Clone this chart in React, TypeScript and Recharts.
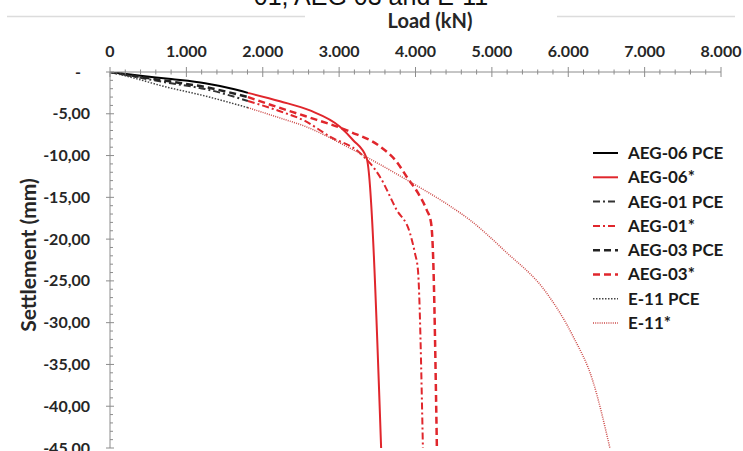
import React from 'react';
import { LineChart, Line, XAxis, YAxis } from 'recharts';

// load (kN) / settlement (mm)
const aeg06PceLoad = [0, 400, 800, 1244, 1571, 1806];
const aeg06PceSettlement = [0, -0.45, -0.85, -1.35, -1.95, -2.5];
const aeg06StarLoad = [1806, 2225, 2618, 3011, 3181, 3360, 3550];
const aeg06StarSettlement = [-2.5, -3.5, -4.6, -6.55, -8.14, -10.3, -45];

const aeg01PceLoad = [0, 400, 800, 1244, 1806];
const aeg01PceSettlement = [0, -0.7, -1.35, -2.03, -3.47];
const aeg01StarLoad = [1806, 2225, 2553, 2880, 3273, 3534, 3753, 3927, 3992, 4032, 4097];
const aeg01StarSettlement = [-3.47, -4.7, -5.86, -7.74, -9.69, -12.53, -16.5, -19.27, -21.66, -23.7, -45];

const aeg03PceLoad = [0, 400, 800, 1244, 1806];
const aeg03PceSettlement = [0, -0.6, -1.15, -1.8, -3.0];
const aeg03StarLoad = [1806, 2225, 2553, 3142, 3534, 3753, 3884, 4032, 4146, 4202, 4228, 4280];
const aeg03StarSettlement = [-3.0, -4.3, -5.27, -7.14, -8.9, -10.74, -12.53, -14.48, -16.5, -17.95, -21.4, -45];

const e11PceLoad = [0, 366, 655, 1244, 1806];
const e11PceSettlement = [0, -0.85, -1.6, -2.87, -4.27];
const e11StarLoad = [1806, 2225, 2553, 3098, 3403, 3884, 4411, 4712, 5170, 5707, 6061, 6322, 6545];
const e11StarSettlement = [-4.27, -5.5, -6.5, -8.9, -10.4, -12.9, -15.8, -17.71, -21.42, -26.33, -31.6, -36.98, -45];

const loadTicks = Array.from({ length: 41 }, (_, i) => i * 200);
const settlementTicks = Array.from({ length: 46 }, (_, i) => -i);

const toRows = (load: number[], settlement: number[]) =>
  load.map((l, i) => ({ load: l, settlement: settlement[i] }));

const RED = '#e0262c';

const series = [
  { name: 'AEG-06 PCE', data: toRows(aeg06PceLoad, aeg06PceSettlement), color: '#000', dash: undefined, width: 2 },
  { name: 'AEG-06*', data: toRows(aeg06StarLoad, aeg06StarSettlement), color: RED, dash: undefined, width: 2 },
  { name: 'AEG-01 PCE', data: toRows(aeg01PceLoad, aeg01PceSettlement), color: '#333', dash: '7 3 2 3', width: 2 },
  { name: 'AEG-01*', data: toRows(aeg01StarLoad, aeg01StarSettlement), color: RED, dash: '7 3 2 3', width: 2 },
  { name: 'AEG-03 PCE', data: toRows(aeg03PceLoad, aeg03PceSettlement), color: '#222', dash: '7 4', width: 2.5 },
  { name: 'AEG-03*', data: toRows(aeg03StarLoad, aeg03StarSettlement), color: RED, dash: '7 4', width: 2.5 },
  { name: 'E-11 PCE', data: toRows(e11PceLoad, e11PceSettlement), color: '#444', dash: '1.5 1.5', width: 1.5 },
  { name: 'E-11*', data: toRows(e11StarLoad, e11StarSettlement), color: '#cc4a48', dash: '1 1.2', width: 1.5 },
];

const FONT = 'Lato, "Open Sans", sans-serif';
const AXIS = '#8c8c8c';

const LoadTick = (props: any) => {
  const { x, payload } = props;
  const y = 72;
  const v = payload.value;
  const major = v % 1000 === 0;
  return (
    <g>
      <line x1={x} x2={x} y1={major ? y - 5 : y - 2.5} y2={major ? y + 5 : y + 2.5} stroke={AXIS} />
      {major && (
        <text x={x} y={y - 15} textAnchor="middle" fontFamily={FONT} fontWeight={700} fontSize={16} fill="#262626">
          {v === 0 ? '0' : `${v / 1000}.000`}
        </text>
      )}
    </g>
  );
};

const SettlementTick = (props: any) => {
  const { y, payload } = props;
  const x = 110;
  const v = payload.value;
  const major = v % 5 === 0;
  return (
    <g>
      <line x1={major ? x - 4 : x} x2={major ? x + 4 : x + 3} y1={y} y2={y} stroke={AXIS} />
      {major && (
        <text x={v === 0 ? x - 29 : x - 20} y={y} dy="0.35em" textAnchor="end" fontFamily={FONT} fontWeight={700} fontSize={16} fill="#262626">
          {v === 0 ? '-' : `${v},00`}
        </text>
      )}
    </g>
  );
};

const App = () => {
  return (
    <div style={{ position: 'absolute', left: 0, top: 0, width: 743, height: 451, overflow: 'hidden', background: '#fff' }}>
      <LineChart width={743} height={451} margin={{ top: 42, right: 22, bottom: 3, left: 50 }}>
        <XAxis
          type="number"
          dataKey="load"
          orientation="top"
          domain={[0, 8000]}
          ticks={loadTicks}
          height={30}
          tickLine={false}
          axisLine={{ stroke: AXIS }}
          tick={<LoadTick />}
          interval={0}
          allowDataOverflow
        />
        <YAxis
          type="number"
          domain={[-45, 0]}
          ticks={settlementTicks}
          width={60}
          tickLine={false}
          axisLine={{ stroke: AXIS }}
          tick={<SettlementTick />}
          interval={0}
          allowDataOverflow
        />
        {series.map((s) => (
          <Line
            key={s.name}
            data={s.data}
            dataKey="settlement"
            name={s.name}
            type="monotone"
            stroke={s.color}
            strokeWidth={s.width}
            strokeDasharray={s.dash}
            dot={false}
            activeDot={false}
            isAnimationActive={false}
          />
        ))}
      </LineChart>
      <svg width={743} height={451} style={{ position: 'absolute', left: 0, top: 0, pointerEvents: 'none' }}>
        <line x1={7} x2={305} y1={16.5} y2={16.5} stroke="#dcdcdc" strokeWidth={1.5} />
        <line x1={557} x2={735} y1={16.5} y2={16.5} stroke="#dcdcdc" strokeWidth={1.5} />
        <text x={371} y={5} textAnchor="middle" fontFamily='"Liberation Sans", Arial, sans-serif' fontSize={25} fill="#111">
          01, AEG 03 and E-11
        </text>
        <text x={430} y={28} textAnchor="middle" fontFamily={FONT} fontWeight={700} fontSize={20} fill="#262626">
          Load (kN)
        </text>
        <text
          x={0}
          y={0}
          transform="translate(36 255) rotate(-90)"
          textAnchor="middle"
          fontFamily={FONT}
          fontWeight={700}
          fontSize={21}
          fill="#262626"
        >
          Settlement (mm)
        </text>
        {series.map((s, i) => {
          const cy = 153 + i * 24.3;
          return (
            <g key={s.name}>
              <line x1={593} x2={618} y1={cy} y2={cy} stroke={s.color} strokeWidth={s.width} strokeDasharray={s.dash} />
              <text x={628} y={cy} dy="0.35em" fontFamily={FONT} fontWeight={700} fontSize={17} fill="#1a1a1a">
                {s.name}
              </text>
            </g>
          );
        })}
      </svg>
    </div>
  );
};

export default App;
